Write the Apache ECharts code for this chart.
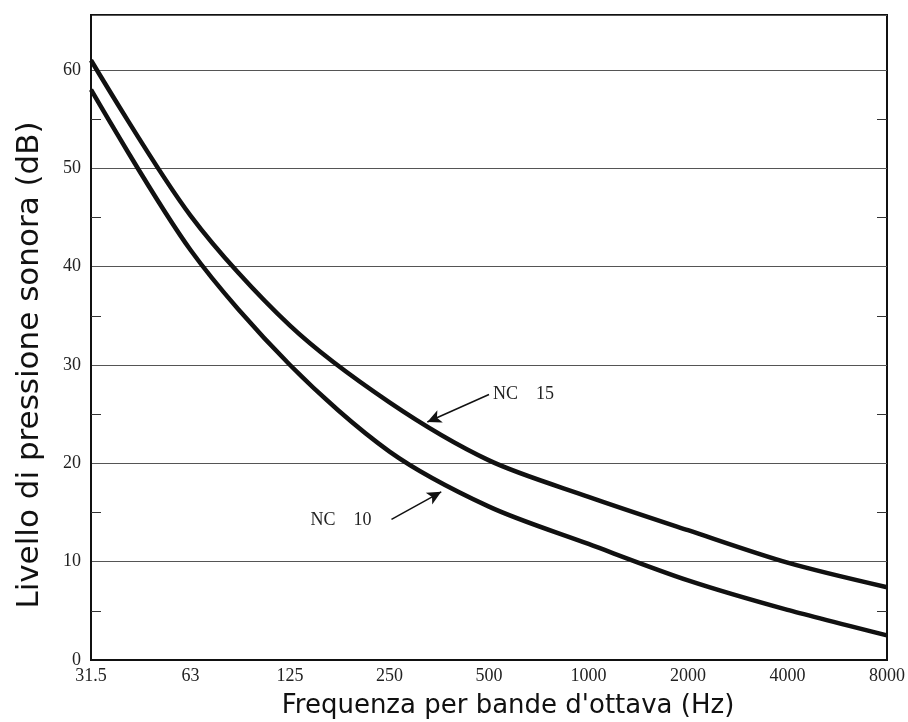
<!DOCTYPE html>
<html>
<head>
<meta charset="utf-8">
<script src="https://cdn.jsdelivr.net/npm/echarts@6/dist/echarts.min.js"></script>
<style>
	html, body { margin: 0; padding: 0; background: #fff; }
	#chart { width: 908px; height: 722px; }
</style>
</head>
<body>
<div id="chart"></div>
<script>
// bande d'ottava (Hz)
var freqLabels = ['31.5', '63', '125', '250', '500', '1000', '2000', '4000', '8000'];
var yTicks = [0, 10, 20, 30, 40, 50, 60];
var yMinorTicks = [5, 15, 25, 35, 45, 55];
// livelli (dB)
var nc15 = [61, 45.2, 34, 26.2, 20.3, 16.6, 13.2, 9.9, 7.4];
var nc10 = [58, 41.7, 30, 21.2, 15.6, 11.8, 8.1, 5.1, 2.5];

function toPoints(list){
	var out = [];
	list.forEach(function(value, key){
		out.push([key, value]);
	});
	return out;
}

var myChart = echarts.init(document.getElementById('chart'));
var serif = 'Liberation Serif';
var sans = 'DejaVu Sans';

var yBase = {
	type: 'value',
	min: 0,
	max: 65.6,
	interval: 10
};

var option = {
	animation: false,
	backgroundColor: '#fff',
	grid: {
		left: 91,
		right: 20,
		top: 15,
		bottom: 62,
		show: true,
		borderColor: '#111',
		borderWidth: 2
	},
	xAxis: {
		type: 'value',
		min: 0,
		max: freqLabels.length - 1,
		interval: 1,
		axisLine: { show: true, lineStyle: { color: '#111', width: 2 } },
		axisTick: { show: false },
		splitLine: { show: false },
		axisLabel: {
			color: '#222',
			fontFamily: serif,
			fontSize: 18,
			margin: 7,
			formatter: function(v){ return freqLabels[v]; }
		}
	},
	yAxis: [
		// etichette e griglia
		Object.assign({}, yBase, {
			position: 'left',
			axisLine: { show: true, lineStyle: { color: '#111', width: 2 } },
			axisTick: { show: false },
			splitLine: { show: true, lineStyle: { color: '#555', width: 1 } },
			axisLabel: {
				color: '#222',
				fontFamily: serif,
				fontSize: 18,
				margin: 10,
				customValues: yTicks
			}
		}),
		// tacche intermedie a sinistra
		Object.assign({}, yBase, {
			position: 'left',
			axisLine: { show: false },
			axisTick: { show: true, inside: true, length: 10, customValues: yMinorTicks, lineStyle: { color: '#333', width: 1 } },
			splitLine: { show: false },
			axisLabel: { show: false }
		}),
		// tacche intermedie a destra
		Object.assign({}, yBase, {
			position: 'right',
			axisLine: { show: false },
			axisTick: { show: true, inside: true, length: 10, customValues: yMinorTicks, lineStyle: { color: '#333', width: 1 } },
			splitLine: { show: false },
			axisLabel: { show: false }
		})
	],
	graphic: [
		{
			type: 'text',
			x: 30,
			y: 365,
			rotation: Math.PI / 2,
			style: {
				text: 'Livello di pressione sonora (dB)',
				fontFamily: sans,
				fontSize: 31,
				fill: '#111',
				align: 'center',
				verticalAlign: 'middle'
			}
		},
		{
			type: 'text',
			x: 508,
			y: 706,
			style: {
				text: "Frequenza per bande d'ottava (Hz)",
				fontFamily: sans,
				fontSize: 26,
				fill: '#111',
				align: 'center',
				verticalAlign: 'middle'
			}
		}
	],
	series: [
		{
			name: 'NC 15',
			type: 'line',
			data: toPoints(nc15),
			smooth: 0.3,
			showSymbol: false,
			lineStyle: { color: '#111', width: 4.5 },
			markPoint: {
				symbol: 'circle',
				symbolSize: 0,
				label: {
					show: true,
					position: 'right',
					distance: 2,
					color: '#222',
					fontFamily: serif,
					fontSize: 18,
					formatter: 'NC    15'
				},
				data: [{ coord: [4.02, 27.0] }]
			},
			markLine: {
				silent: true,
				symbol: ['none', 'arrow'],
				symbolSize: [10, 14],
				label: { show: false },
				lineStyle: { color: '#111', width: 1.5, type: 'solid', curveness: -0.15 },
				data: [[{ coord: [4.0, 27.0] }, { coord: [3.38, 24.2] }]]
			}
		},
		{
			name: 'NC 10',
			type: 'line',
			data: toPoints(nc10),
			smooth: 0.3,
			showSymbol: false,
			lineStyle: { color: '#111', width: 4.5 },
			markPoint: {
				symbol: 'circle',
				symbolSize: 0,
				label: {
					show: true,
					position: 'left',
					distance: 20,
					color: '#222',
					fontFamily: serif,
					fontSize: 18,
					formatter: 'NC    10'
				},
				data: [{ coord: [3.02, 14.2] }]
			},
			markLine: {
				silent: true,
				symbol: ['none', 'arrow'],
				symbolSize: [10, 14],
				label: { show: false },
				lineStyle: { color: '#111', width: 1.5, type: 'solid', curveness: 0.15 },
				data: [[{ coord: [3.02, 14.3] }, { coord: [3.52, 17.1] }]]
			}
		}
	]
};

myChart.setOption(option);
</script>
</body>
</html>
